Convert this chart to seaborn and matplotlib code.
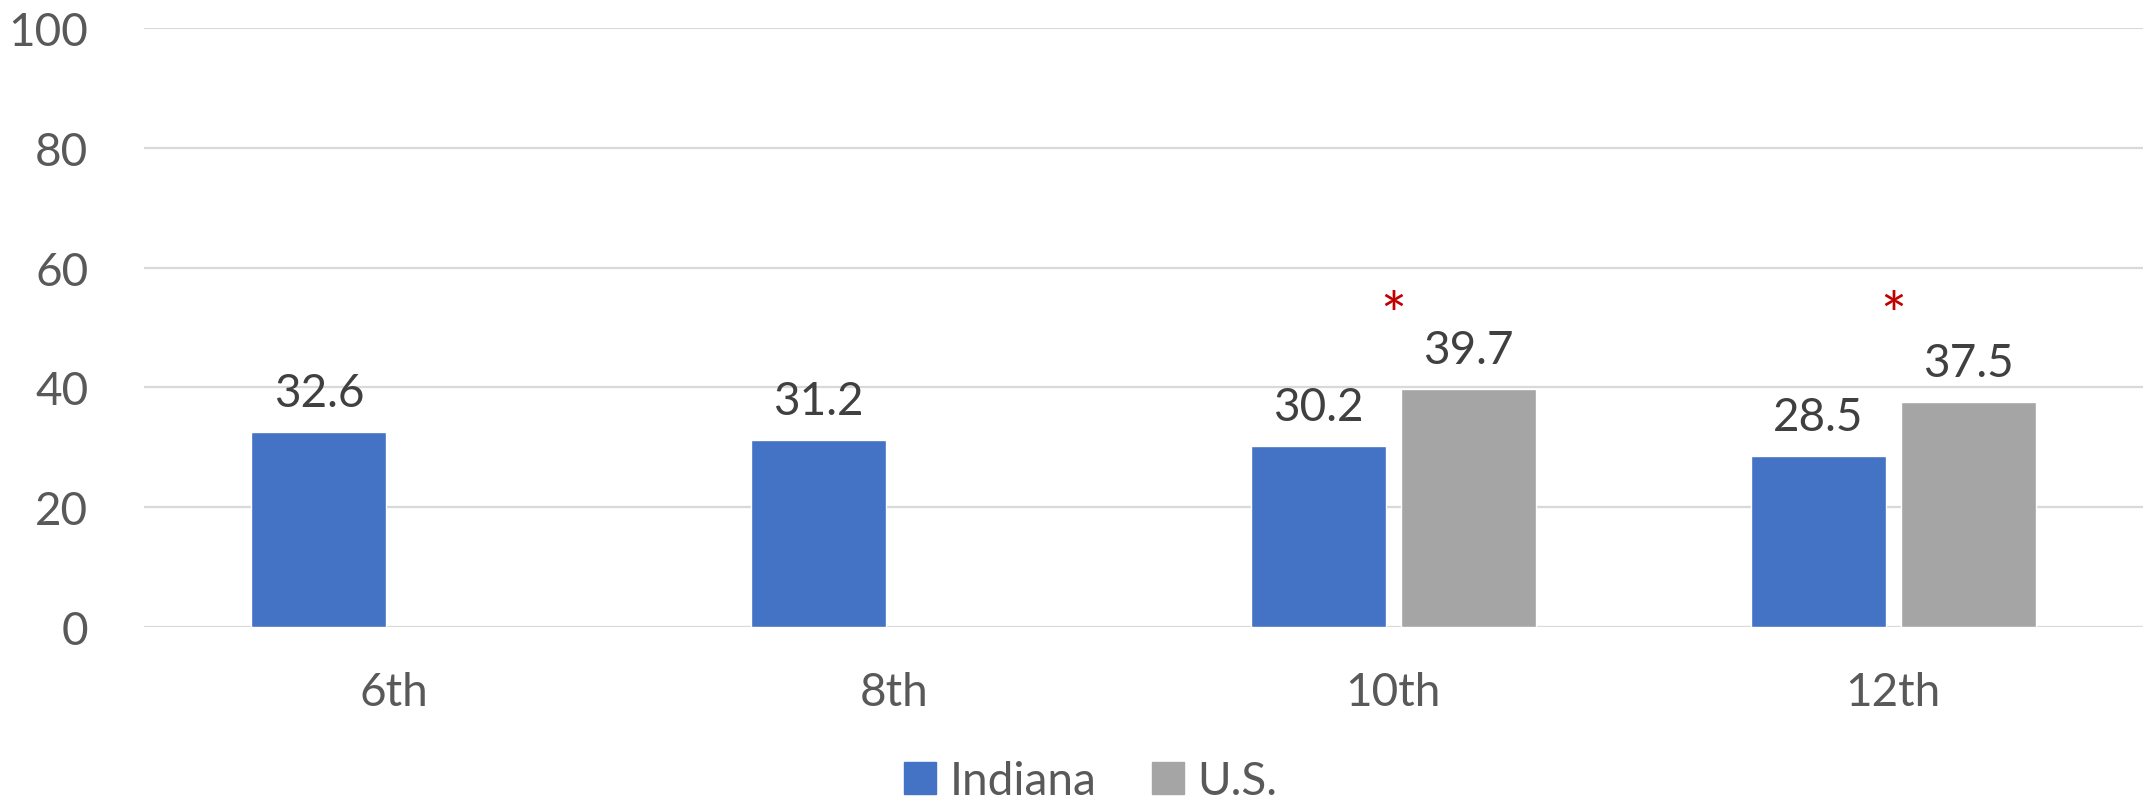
import matplotlib
matplotlib.use("Agg")
import matplotlib.pyplot as plt
import pandas as pd
import seaborn as sns

grades = ["6th", "8th", "10th", "12th"]
indiana = [32.6, 31.2, 30.2, 28.5]
us = [None, None, 39.7, 37.5]
significant = [False, False, True, True]
series_names = ["Indiana", "U.S."]
colors = ["#4472C4", "#A5A5A5"]

rows = []
for g, v in zip(grades, indiana):
    rows.append({"grade": g, "group": "Indiana", "value": v})
for g, v in zip(grades, us):
    rows.append({"grade": g, "group": "U.S.", "value": v})
df = pd.DataFrame(rows)

sns.set_theme(style="white")
plt.rcParams["font.family"] = ["Lato", "DejaVu Sans"]

fig = plt.figure(figsize=(21.47, 8.04), dpi=100)
ax = fig.add_axes([144 / 2147, 1 - 628 / 804, 1999 / 2147, 599 / 804])

sns.barplot(data=df, x="grade", y="value", hue="group", order=grades,
            hue_order=series_names, palette=colors, width=0.6, gap=0.1,
            saturation=1, ax=ax, legend=False)

ax.set_ylim(0, 100)
ax.set_xlim(-0.5, 3.5)
ax.set_yticks(range(0, 101, 20))
ax.yaxis.grid(True, color="#D9D9D9", linewidth=1.6)
ax.set_axisbelow(True)
for s in ax.spines.values():
    s.set_visible(False)
ax.set_xlabel("")
ax.set_ylabel("")
ax.tick_params(axis="y", labelsize=33, labelcolor="#595959", length=0, pad=40)
ax.tick_params(axis="x", labelsize=33, labelcolor="#595959", length=0, pad=32)

for container in ax.containers:
    labels = ["" if (v != v or v is None) else f"{v:.1f}" for v in container.datavalues]
    ax.bar_label(container, labels=labels, padding=13, fontsize=33, color="#404040")

# significance markers
for i, sig in enumerate(significant):
    if sig:
        ax.text(i, 51.5, "*", ha="center", va="center", fontsize=44,
                color="#C00000")

handles = [plt.Rectangle((0, 0), 1, 1, color=c) for c in colors]
fig.legend(handles, series_names, loc="lower center", bbox_to_anchor=(0.508, -0.05),
           ncol=2, frameon=False, fontsize=33, handlelength=0.7, handleheight=0.7,
           handletextpad=0.3, columnspacing=1.2, labelcolor="#595959")

fig.savefig("out.png", dpi=100)
